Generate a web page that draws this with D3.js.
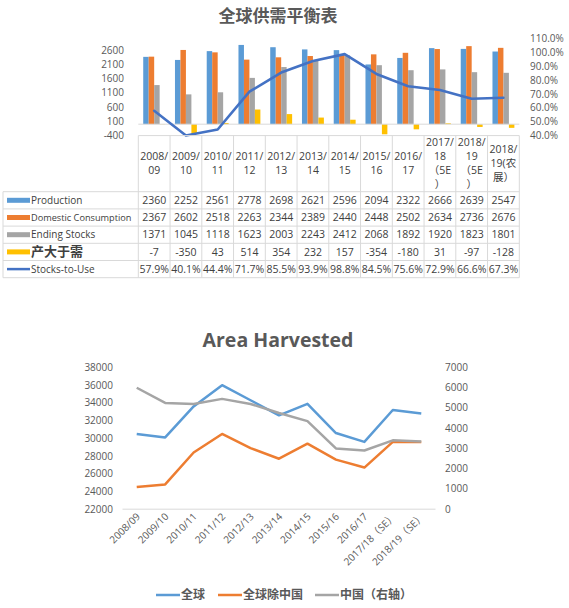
<!DOCTYPE html>
<html>
<head>
<meta charset="utf-8">
<script src="https://cdn.jsdelivr.net/npm/d3@7"></script>
<style>
  html, body { margin: 0; padding: 0; background: #fff; }
  svg { display: block; }
  text { font-family: "Open Sans", "Noto Sans CJK SC", sans-serif; }
</style>
</head>
<body>
<svg id="chart" width="569" height="608"></svg>
<script>
// ---------- Top chart data ----------
const topTitle = "全球供需平衡表";
const topCategories = ["2008/09","2009/10","2010/11","2011/12","2012/13","2013/14","2014/15","2015/16","2016/17","2017/18(5E)","2018/19(5E)","2018/19(农展)"];
const topHeaderLines = [
  ["2008/","09"],["2009/","10"],["2010/","11"],["2011/","12"],["2012/","13"],["2013/","14"],
  ["2014/","15"],["2015/","16"],["2016/","17"],["2017/","18","（5E","）"],["2018/","19","（5E","）"],["2018/","19(农","展）"]
];
const production = [2360,2252,2561,2778,2698,2621,2596,2094,2322,2666,2639,2547];
const domesticConsumption = [2367,2602,2518,2263,2344,2389,2440,2448,2502,2634,2736,2676];
const endingStocks = [1371,1045,1118,1623,2003,2243,2412,2068,1892,1920,1823,1801];
const surplus = [-7,-350,43,514,354,232,157,-354,-180,31,-97,-128];
const stocksToUse = [0.579,0.401,0.444,0.717,0.855,0.939,0.988,0.845,0.756,0.729,0.666,0.673];
const topLeftTicks = [-400,100,600,1100,1600,2100,2600];
const topRightTicks = [40,50,60,70,80,90,100,110].map(d => d / 100);
const barSeriesNames = ["Production","Domestic Consumption","Ending Stocks","产大于需"];
const lineSeriesName = "Stocks-to-Use";

// ---------- Bottom chart data ----------
const bottomTitle = "Area Harvested";
const bottomCategories = ["2008/09","2009/10","2010/11","2011/12","2012/13","2013/14","2014/15","2015/16","2016/17","2017/18（SE）","2018/19（SE）"];
const worldArea = [30500,30100,33600,36000,34300,32600,33900,30600,29600,33200,32800];
const worldExChinaArea = [24500,24800,28400,30500,28900,27700,29400,27600,26700,29600,29600];
const chinaArea = [6000,5250,5200,5450,5200,4750,4350,3000,2900,3400,3350];
const bottomLeftTicks = [22000,24000,26000,28000,30000,32000,34000,36000,38000];
const bottomRightTicks = [0,1000,2000,3000,4000,5000,6000,7000];
const bottomSeriesNames = ["全球","全球除中国","中国（右轴）"];

// ---------- Styles ----------
const barColors = ["#5B9BD5","#ED7D31","#A5A5A5","#FFC000"];
const lineColor = "#4472C4";
const bottomColors = ["#5B9BD5","#ED7D31","#A5A5A5"];
const axisText = "#595959";
const tableText = "#404040";
const gridColor = "#D9D9D9";

const svg = d3.select("#chart");

// ===================== TOP CHART =====================
const tL = 138.3, tR = 519.3, tTop = 38.6, tBot = 135.6;
const xTop = d3.scaleBand().domain(topCategories).range([tL, tR]).padding(0);
const yLeftTop = d3.scaleLinear().domain([-400, 3000]).range([tBot, tTop]);
const yRightTop = d3.scaleLinear().domain([0.4, 1.1]).range([tBot, tTop]);
const groupW = xTop.bandwidth() * 0.69;
const xInner = d3.scaleBand().domain(d3.range(4)).range([0, groupW]).padding(0);
const barData = [production, domesticConsumption, endingStocks, surplus];

svg.append("text").attr("x", 278).attr("y", 22).attr("text-anchor", "middle")
  .attr("font-size", 17).attr("font-weight", "bold").attr("fill", axisText)
  .style("font-family", "'Noto Sans CJK SC', sans-serif").text(topTitle);

svg.append("g").selectAll("text").data(topLeftTicks).join("text")
  .attr("x", 124).attr("y", d => yLeftTop(d)).attr("dy", "0.35em")
  .attr("text-anchor", "end").attr("font-size", 10).attr("fill", axisText).text(d => d);
svg.append("g").selectAll("text").data(topRightTicks).join("text")
  .attr("x", 530).attr("y", d => yRightTop(d)).attr("dy", "0.35em")
  .attr("text-anchor", "start").attr("font-size", 10).attr("fill", axisText).text(d => d3.format(".1%")(d));

const barsG = svg.append("g");
barData.forEach((vals, si) => {
  barsG.append("g").selectAll("rect").data(vals).join("rect")
    .attr("x", (d, i) => xTop(topCategories[i]) + (xTop.bandwidth() - groupW) / 2 + xInner(si))
    .attr("width", xInner.bandwidth())
    .attr("y", d => Math.min(yLeftTop(d), yLeftTop(0)))
    .attr("height", d => Math.abs(yLeftTop(d) - yLeftTop(0)))
    .attr("fill", barColors[si]);
});
svg.append("line").attr("x1", tL).attr("x2", tR).attr("y1", yLeftTop(0)).attr("y2", yLeftTop(0))
  .attr("stroke", gridColor).attr("stroke-width", 1);

const lineTop = d3.line().x((d, i) => xTop(topCategories[i]) + xTop.bandwidth() / 2).y(d => yRightTop(d));
svg.append("path").datum(stocksToUse).attr("d", lineTop).attr("fill", "none")
  .attr("stroke", lineColor).attr("stroke-width", 2.6).attr("stroke-linejoin", "round").attr("stroke-linecap", "round");

// table
const hdrTop = 135.6, rowTops = [191.7, 208.9, 226.1, 243.3, 260.5, 277.7];
const tableG = svg.append("g");
tableG.append("line").attr("x1", tL).attr("x2", tR).attr("y1", hdrTop).attr("y2", hdrTop).attr("stroke", gridColor);
rowTops.forEach(y => tableG.append("line").attr("x1", 3).attr("x2", tR).attr("y1", y).attr("y2", y).attr("stroke", gridColor));
tableG.append("line").attr("x1", 3).attr("x2", 3).attr("y1", rowTops[0]).attr("y2", rowTops[5]).attr("stroke", gridColor);
topCategories.forEach(c => {
  const x = xTop(c);
  tableG.append("line").attr("x1", x).attr("x2", x).attr("y1", hdrTop).attr("y2", rowTops[5]).attr("stroke", gridColor);
});
tableG.append("line").attr("x1", tR).attr("x2", tR).attr("y1", hdrTop).attr("y2", rowTops[5]).attr("stroke", gridColor);

const hdrMid = (hdrTop + rowTops[0]) / 2;
topHeaderLines.forEach((lines, i) => {
  const cx = xTop(topCategories[i]) + xTop.bandwidth() / 2;
  const lh = 14;
  const start = hdrMid - (lines.length - 1) * lh / 2;
  const t = tableG.append("text").attr("text-anchor", "middle").attr("font-size", 10.5).attr("fill", tableText);
  lines.forEach((l, k) => t.append("tspan").attr("x", cx).attr("y", start + k * lh).attr("dy", "0.35em").text(l));
});

const rowValues = [production, domesticConsumption, endingStocks, surplus, stocksToUse];
const rowNames = [...barSeriesNames, lineSeriesName];
const rowLabelSizes = [10, 9.2, 10, 13, 10];
rowValues.forEach((vals, r) => {
  const cy = (rowTops[r] + rowTops[r + 1]) / 2;
  if (r < 4) {
    tableG.append("rect").attr("x", 7).attr("y", cy - 2.5).attr("width", 23).attr("height", 5).attr("fill", barColors[r]);
  } else {
    tableG.append("line").attr("x1", 7).attr("x2", 30).attr("y1", cy).attr("y2", cy).attr("stroke", lineColor).attr("stroke-width", 2.5);
  }
  tableG.append("text").attr("x", 31).attr("y", cy).attr("dy", "0.35em")
    .attr("font-size", rowLabelSizes[r]).attr("font-weight", r === 3 ? "bold" : "normal")
    .attr("fill", tableText).text(rowNames[r]);
  vals.forEach((v, i) => {
    tableG.append("text").attr("x", xTop(topCategories[i]) + xTop.bandwidth() / 2).attr("y", cy).attr("dy", "0.35em")
      .attr("text-anchor", "middle").attr("font-size", 10.5).attr("fill", tableText)
      .text(r === 4 ? d3.format(".1%")(v) : v);
  });
});

// ===================== BOTTOM CHART =====================
const bL = 122.5, bR = 435.5, bTop = 367.5, bBot = 509.2;
const xBot = d3.scaleBand().domain(bottomCategories).range([bL, bR]).padding(0);
const yLeftBot = d3.scaleLinear().domain([22000, 38000]).range([bBot, bTop]);
const yRightBot = d3.scaleLinear().domain([0, 7000]).range([bBot, bTop]);
const cxB = c => xBot(c) + xBot.bandwidth() / 2;

svg.append("text").attr("x", 278).attr("y", 347).attr("text-anchor", "middle")
  .attr("font-size", 19.5).attr("font-weight", "bold").attr("fill", axisText).text(bottomTitle);

svg.append("g").selectAll("text").data(bottomLeftTicks).join("text")
  .attr("x", 113).attr("y", d => yLeftBot(d)).attr("dy", "0.35em")
  .attr("text-anchor", "end").attr("font-size", 10).attr("fill", axisText).text(d => d);
svg.append("g").selectAll("text").data(bottomRightTicks).join("text")
  .attr("x", 445).attr("y", d => yRightBot(d)).attr("dy", "0.35em")
  .attr("text-anchor", "start").attr("font-size", 10).attr("fill", axisText).text(d => d);

svg.append("line").attr("x1", bL).attr("x2", bR).attr("y1", bBot).attr("y2", bBot).attr("stroke", gridColor);

svg.append("g").selectAll("text").data(bottomCategories).join("text")
  .attr("transform", c => `translate(${cxB(c) + 4},${bBot + 8}) rotate(-45)`)
  .attr("text-anchor", "end").attr("font-size", 10).attr("fill", axisText).text(c => c);

const lineB = (scale) => d3.line().x((d, i) => cxB(bottomCategories[i])).y(d => scale(d));
[[worldArea, yLeftBot], [worldExChinaArea, yLeftBot], [chinaArea, yRightBot]].forEach(([vals, sc], si) => {
  svg.append("path").datum(vals).attr("d", lineB(sc)).attr("fill", "none")
    .attr("stroke", bottomColors[si]).attr("stroke-width", 2.5).attr("stroke-linejoin", "round");
});

const legY = 595;
const legX = [156, 218, 315];
bottomSeriesNames.forEach((n, i) => {
  svg.append("line").attr("x1", legX[i]).attr("x2", legX[i] + 24).attr("y1", legY).attr("y2", legY)
    .attr("stroke", bottomColors[i]).attr("stroke-width", 2.5);
  svg.append("text").attr("x", legX[i] + 25).attr("y", legY).attr("dy", "0.35em")
    .attr("font-size", 12).attr("font-weight", "bold").attr("fill", axisText)
    .style("font-family", "'Noto Sans CJK SC', sans-serif").text(n);
});
</script>
</body>
</html>
